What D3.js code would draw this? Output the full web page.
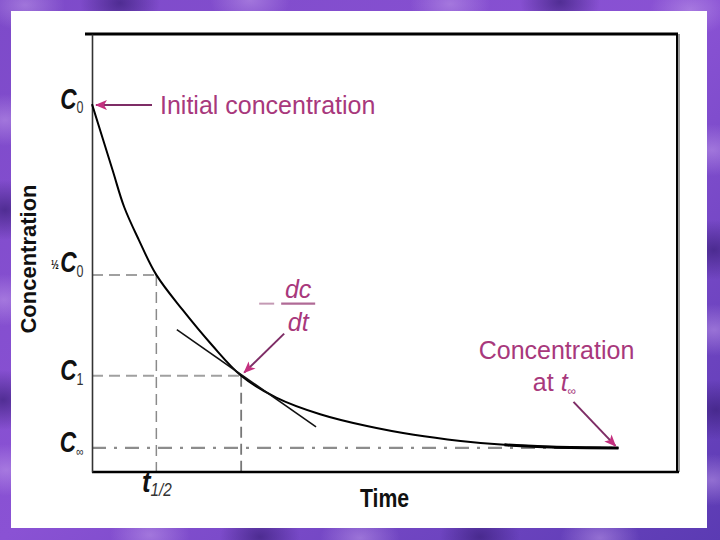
<!DOCTYPE html>
<html><head><meta charset="utf-8">
<script src="https://cdn.jsdelivr.net/npm/d3@7"></script>
<style>html,body{margin:0;padding:0;background:#fff;} svg{display:block;}</style>
</head><body>
<svg id="chart" width="720" height="540"></svg>
<script>
// ---- data ----
const timeValues = [0, 0.35, 0.55, 0.8, 1.1, 1.55, 2.05, 2.55, 3.15, 3.9, 4.7, 5.5, 6.3, 7.05, 7.85, 9.0];
const concValues = [8.4, 6.9, 6.05, 5.3, 4.5, 3.7, 2.9, 2.2, 1.7, 1.32, 1.05, 0.85, 0.71, 0.62, 0.57, 0.55];
const levelNames = ["C0", "halfC0", "C1", "Cinf"];
const levelValues = [8.4, 4.5, 2.2, 0.55];
const timeMarkNames = ["tHalf", "t1", "tInf"];
const timeMarkValues = [1.1, 2.55, 9.0];
const tangentTimes = [1.45, 3.83];
const tangentConcs = [3.25, 1.03];
const axisTitles = ["Time", "Concentration"];
const annotationTexts = ["Initial concentration", "Concentration", "at "];

const W = 720, H = 540;
const svg = d3.select("#chart");
const defs = svg.append("defs");
const SANS = "'Liberation Sans',Arial,sans-serif";

// ---- decorative purple background ----
const bg = defs.append("linearGradient").attr("id", "bgGrad").attr("x1", 0).attr("y1", 0).attr("x2", 1).attr("y2", 1);
bg.append("stop").attr("offset", "0%").attr("stop-color", "#7d4ac9");
bg.append("stop").attr("offset", "50%").attr("stop-color", "#8a52d4");
bg.append("stop").attr("offset", "100%").attr("stop-color", "#5b3bb3");
svg.append("rect").attr("width", W).attr("height", H).attr("fill", "url(#bgGrad)");
const blob = defs.append("radialGradient").attr("id", "blobLight");
blob.append("stop").attr("offset", "0%").attr("stop-color", "#c4a0ec").attr("stop-opacity", 0.5);
blob.append("stop").attr("offset", "100%").attr("stop-color", "#c4a0ec").attr("stop-opacity", 0);
const blobD = defs.append("radialGradient").attr("id", "blobDark");
blobD.append("stop").attr("offset", "0%").attr("stop-color", "#3a1f7a").attr("stop-opacity", 0.7);
blobD.append("stop").attr("offset", "100%").attr("stop-color", "#3a1f7a").attr("stop-opacity", 0);
const blobsL = [[25,5],[250,0],[450,4],[690,10],[5,120],[712,150],[4,300],[714,330],[6,470],[712,480],[360,538],[150,535],[600,538]];
const blobsD = [[120,3],[560,2],[5,210],[714,250],[3,400],[716,410],[260,537],[480,537]];
svg.selectAll(".bl").data(blobsL).enter().append("ellipse")
  .attr("cx", d => d[0]).attr("cy", d => d[1]).attr("rx", 40).attr("ry", 26).attr("fill", "url(#blobLight)");
svg.selectAll(".bd").data(blobsD).enter().append("ellipse")
  .attr("cx", d => d[0]).attr("cy", d => d[1]).attr("rx", 40).attr("ry", 30).attr("fill", "url(#blobDark)");

// white panel
svg.append("rect").attr("x", 11).attr("y", 11).attr("width", 696).attr("height", 517).attr("fill", "#ffffff");

// ---- scales ----
const x = d3.scaleLinear().domain([0, 10]).range([92, 677]);
const y = d3.scaleLinear().domain([0, 10]).range([472, 34]);

const lv = {}; levelNames.forEach((n, i) => lv[n] = levelValues[i]);
const tm = {}; timeMarkNames.forEach((n, i) => tm[n] = timeMarkValues[i]);

// ---- dashed guide lines ----
const g = svg.append("g");
const dashStyle = sel => sel.attr("stroke", "#a0a0a0").attr("stroke-width", 2).attr("stroke-dasharray", "11,6").attr("fill", "none");
g.append("line").attr("x1", x(0)).attr("x2", x(tm.tHalf)).attr("y1", y(lv.halfC0)).attr("y2", y(lv.halfC0)).call(dashStyle);
g.append("line").attr("x1", x(tm.tHalf)).attr("x2", x(tm.tHalf)).attr("y1", y(lv.halfC0)).attr("y2", y(0)).call(dashStyle).attr("stroke", "#8a8a8a").attr("stroke-width", 1.5);
g.append("line").attr("x1", x(0)).attr("x2", x(tm.t1)).attr("y1", y(lv.C1)).attr("y2", y(lv.C1)).call(dashStyle);
g.append("line").attr("x1", x(tm.t1)).attr("x2", x(tm.t1)).attr("y1", y(lv.C1)).attr("y2", y(0)).call(dashStyle).attr("stroke", "#777").attr("stroke-width", 1.8);
g.append("line").attr("x1", x(0)).attr("x2", x(tm.tInf)).attr("y1", y(lv.Cinf)).attr("y2", y(lv.Cinf))
  .attr("stroke", "#8c8c8c").attr("stroke-width", 2.2).attr("stroke-dasharray", "14,8,3,8");

// ---- frame ----
svg.append("line").attr("x1", x(0) - 7).attr("x2", x(10) + 1).attr("y1", y(10)).attr("y2", y(10)).attr("stroke", "#000").attr("stroke-width", 3);
svg.append("line").attr("x1", x(10) + 2).attr("x2", x(10) + 2).attr("y1", y(10)).attr("y2", y(0)).attr("stroke", "#999").attr("stroke-width", 2);
svg.append("line").attr("x1", x(10)).attr("x2", x(10)).attr("y1", y(10)).attr("y2", y(0)).attr("stroke", "#000").attr("stroke-width", 2);
svg.append("line").attr("x1", x(0)).attr("x2", x(10) + 2).attr("y1", y(0)).attr("y2", y(0)).attr("stroke", "#000").attr("stroke-width", 2.5);

// ---- y axis with custom labels ----
const yAxis = d3.axisLeft(y).tickValues(levelValues).tickSize(0).tickPadding(11).tickFormat(() => "");
const ya = svg.append("g").attr("transform", `translate(${x(0)},0)`).call(yAxis);
ya.select(".domain").attr("stroke", "#333").attr("stroke-width", 1.6);
const subs = { C0: "0", halfC0: "0", C1: "1", Cinf: "∞" };
ya.selectAll(".tick text").each(function (d, i) {
  const name = levelNames[i];
  const t = d3.select(this).text(null).attr("fill", "#111")
    .attr("font-family", SANS).attr("dy", "0.4em")
    .attr("transform", "scale(0.78,1)");
  if (name === "halfC0") {
    t.append("tspan").text("½").attr("font-size", 12).attr("font-weight", "bold").attr("dy", "-0.5em");
    t.append("tspan").text("  ").attr("font-size", 6).attr("dy", "0.5em");
  }
  t.append("tspan").text("C").attr("font-size", 29).attr("font-style", "italic").attr("font-weight", "bold");
  t.append("tspan").text(subs[name]).attr("font-size", name === "Cinf" ? 13 : 16).attr("dy", "0.3em").attr("fill", "#333");
});

// ---- x axis (t1/2 label) ----
const xAxis = d3.axisBottom(x).tickValues([tm.tHalf]).tickSize(0).tickPadding(10).tickFormat(() => "");
const xa = svg.append("g").attr("transform", `translate(0,${y(0)})`).call(xAxis);
xa.select(".domain").remove();
xa.selectAll(".tick text").each(function () {
  const t = d3.select(this).text(null).attr("fill", "#111").attr("dy", "0.95em")
    .attr("font-family", SANS).attr("transform", "scale(0.85,1)");
  t.append("tspan").text("t").attr("font-size", 30).attr("font-style", "italic").attr("font-weight", "bold");
  t.append("tspan").text("1/2").attr("font-size", 18).attr("font-style", "italic").attr("dy", "0.25em").attr("fill", "#333");
});

// ---- axis titles ----
svg.append("text").attr("transform", `translate(${(x(0) + x(10)) / 2},507) scale(0.85,1)`).attr("text-anchor", "middle")
  .attr("font-family", SANS).attr("font-weight", "bold")
  .attr("font-size", 25).attr("fill", "#111").text(axisTitles[0]);
svg.append("text").attr("transform", `translate(36,${(y(0) + y(10)) / 2 + 6}) rotate(-90)`).attr("text-anchor", "middle")
  .attr("font-family", SANS).attr("font-weight", "bold")
  .attr("font-size", 22).attr("fill", "#111").text(axisTitles[1]);

// ---- curve ----
const pts = timeValues.map((t, i) => [t, concValues[i]]);
const line = d3.line().x(d => x(d[0])).y(d => y(d[1])).curve(d3.curveCatmullRom.alpha(0.5));
svg.append("path").datum(pts).attr("d", line).attr("fill", "none").attr("stroke", "#000").attr("stroke-width", 2);
// thicker tail where the curve meets the asymptote
svg.append("path").datum(pts.slice(-3)).attr("d", line).attr("fill", "none").attr("stroke", "#000").attr("stroke-width", 3);

// tangent
svg.append("line").attr("x1", x(tangentTimes[0])).attr("y1", y(tangentConcs[0]))
  .attr("x2", x(tangentTimes[1])).attr("y2", y(tangentConcs[1])).attr("stroke", "#111").attr("stroke-width", 1.6);

// ---- annotations ----
const magenta = "#a8387c", headCol = "#c4307f", shaftCol = "#7e2d66";
defs.append("marker").attr("id", "ah").attr("viewBox", "0 0 12 10").attr("refX", 11).attr("refY", 5)
  .attr("markerWidth", 13).attr("markerHeight", 10).attr("markerUnits", "userSpaceOnUse").attr("orient", "auto")
  .append("path").attr("d", "M0,0 L12,5 L0,10 L3,5 z").attr("fill", headCol);

const arrow = (x1, y1, x2, y2) => svg.append("line").attr("x1", x1).attr("y1", y1).attr("x2", x2).attr("y2", y2)
  .attr("stroke", shaftCol).attr("stroke-width", 2).attr("marker-end", "url(#ah)");

// Initial concentration
const c0x = x(0), c0y = y(lv.C0);
arrow(c0x + 60, c0y + 1, c0x + 4, c0y + 1);
svg.append("text").attr("x", c0x + 68).attr("y", c0y + 10).attr("font-family", SANS)
  .attr("font-size", 25).attr("fill", magenta).text(annotationTexts[0]);

// -dc/dt
const p1x = x(tm.t1), p1y = y(lv.C1);
arrow(p1x + 43, p1y - 42, p1x + 3, p1y - 3);
const fx = p1x + 57;
svg.append("line").attr("x1", p1x + 18).attr("x2", p1x + 33).attr("y1", p1y - 72).attr("y2", p1y - 72).attr("stroke", "#c49ab4").attr("stroke-width", 2);
svg.append("line").attr("x1", fx - 17).attr("x2", fx + 17).attr("y1", p1y - 72).attr("y2", p1y - 72).attr("stroke", "#b06a96").attr("stroke-width", 2.2);
svg.append("text").attr("x", fx).attr("y", p1y - 78).attr("text-anchor", "middle").attr("font-family", SANS)
  .attr("font-style", "italic").attr("font-size", 25).attr("fill", magenta).text("dc");
svg.append("text").attr("x", fx).attr("y", p1y - 45).attr("text-anchor", "middle").attr("font-family", SANS)
  .attr("font-style", "italic").attr("font-size", 25).attr("fill", magenta).text("dt");

// Concentration at t∞
const ex = x(tm.tInf), ey = y(lv.Cinf);
arrow(ex - 45, ey - 46, ex - 3, ey - 2);
svg.append("text").attr("x", ex - 62).attr("y", ey - 89).attr("text-anchor", "middle").attr("font-family", SANS)
  .attr("font-size", 25).attr("fill", magenta).text(annotationTexts[1]);
const at = svg.append("text").attr("x", ex - 64).attr("y", ey - 57).attr("text-anchor", "middle").attr("font-family", SANS)
  .attr("font-size", 25).attr("fill", magenta);
at.append("tspan").text(annotationTexts[2]);
at.append("tspan").text("t").attr("font-style", "italic");
at.append("tspan").text("∞").attr("font-size", 12).attr("dy", "0.3em");
</script>
</body></html>
